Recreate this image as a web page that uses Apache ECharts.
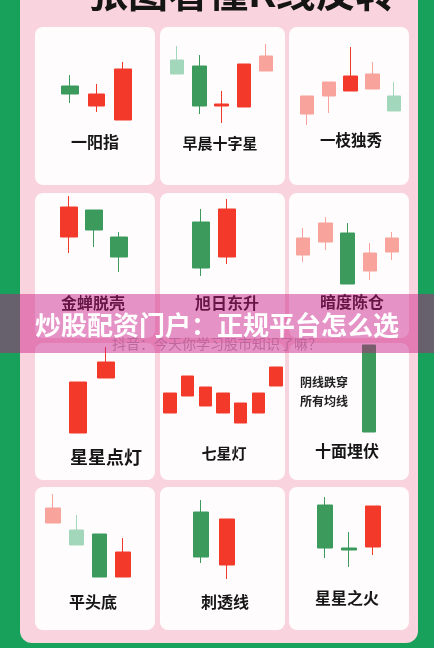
<!DOCTYPE html>
<html><head><meta charset="utf-8">
<script src="https://cdn.jsdelivr.net/npm/echarts@6/dist/echarts.min.js"></script>
<style>html,body{margin:0;padding:0;background:#17a15a;}#c{width:434px;height:648px;}</style>
</head><body><div id="c"></div>
<script>
// ---- data: candles as [open, close, lowest, highest] ----
const titleText = '张图看懂K线反转';
const bannerText = '炒股配资门户：正规平台怎么选';
const footText = '抖音：今天你学习股市知识了嘛？';
const patternNames = ['一阳指','早晨十字星','一枝独秀','金蝉脱壳','旭日东升','暗度陈仓','星星点灯','七星灯','十面埋伏','平头底','刺透线','星星之火'];
const noteLines = ['阴线跌穿','所有均线'];

const yiYangZhi   = [[44,36,27,55],[24,36,18,46],[10,61,10,68]];
const zaoChen     = [[70,56,56,84],[64,24,16,75],[24,26,7,39],[23,66,23,66],[59,74,59,86]];
const yiZhi       = [[16,34,5,34],[34,48,17,48],[39,54,39,83],[41,56,41,68],[34,19,19,48]];
const jinChan     = [[53,83,37,94],[80,60,43,80],[53,33,18,58]];
const xuRi        = [[68,22,14,81],[33,81,26,91]];
const anDu        = [[35,52,28,62],[48,67,40,73],[57,6,6,67],[19,37,10,47],[38,52,30,58]];
const xingDian    = [[37,88,37,88],[92,108,92,123]];
const qiXing      = [[57,77,57,77],[74,94,74,94],[64,83,64,83],[57,77,57,77],[47,67,47,67],[57,77,57,77],[84,103,84,103]];
const shiMian     = [[125,38,38,125]];
const pingTou     = [[77,92,77,106],[70,55,55,85],[66,23,23,66],[23,48,23,62]];
const ciTou       = [[88,43,37,100],[35,81,21,81]];
const xingHuo     = [[95,52,42,103],[52,50,33,68],[53,94,45,94]];

// ---- styles / layout (kept apart from data) ----
const TONE = {u:'#f33a2a', d:'#3b9a5c', U:'#f8a39b', D:'#a3d7bb'};
const cards = [
  {data:yiYangZhi, tones:'duu',    c0:70,  c1:123, bw:17, row:0},
  {data:zaoChen,   tones:'DduuU',  c0:177, c1:266, bw:14, row:0},
  {data:yiZhi,     tones:'UUuUD',  c0:307, c1:394, bw:14, row:0},
  {data:jinChan,   tones:'udd',    c0:69,  c1:119, bw:17, row:1},
  {data:xuRi,      tones:'du',     c0:201, c1:227, bw:17, row:1},
  {data:anDu,      tones:'UUdUU',  c0:303, c1:392, bw:14, row:1},
  {data:xingDian,  tones:'uu',     c0:78,  c1:106, bw:17, row:2},
  {data:qiXing,    tones:'uuuuuuu',c0:170, c1:276, bw:13, row:2},
  {data:shiMian,   tones:'d',      c0:369, c1:369, bw:14, row:2},
  {data:pingTou,   tones:'UDdu',   c0:53,  c1:123, bw:15, row:3},
  {data:ciTou,     tones:'du',     c0:201, c1:227, bw:16, row:3},
  {data:xingHuo,   tones:'ddu',    c0:325, c1:373, bw:15, row:3}
];
const rows = [{top:30,h:100},{top:190,h:100},{top:340,h:130},{top:490,h:110}];
const colX = [35,160,289], colW = [120,125,120];
const rowY = [[27,158],[193,145],[343,137],[487,143]];
const labelPos = [[95,142,16],[220,143,15],[351,140,15.5],[93,303,16],[227,303,16],[352,302,16],[106,457,18],[224,453,15],[347,451,16],[93,602,16],[225,602,16],[347,598,16]];

const grids=[], xAxes=[], yAxes=[], series=[];
cards.forEach((c,i)=>{
  const n=c.data.length, s = n>1 ? (c.c1-c.c0)/(n-1) : 30;
  const r=rows[c.row];
  grids.push({left:c.c0-s/2, width:n*s, top:r.top, height:r.h});
  xAxes.push({type:'category', gridIndex:i, show:false, data:c.data.map((_,k)=>'K'+(k+1))});
  yAxes.push({type:'value', gridIndex:i, show:false, min:0, max:r.h});
  series.push({type:'candlestick', xAxisIndex:i, yAxisIndex:i, barWidth:c.bw, z:5, silent:true,
    data:c.data.map((v,k)=>{const col=TONE[c.tones[k]];return {value:v, itemStyle:{color:col,color0:col,borderColor:col,borderColor0:col,borderWidth:1}};})});
});

const FONT='"Noto Sans CJK SC", sans-serif';
const els=[];
els.push({type:'rect', z:0, shape:{x:20,y:-20,width:398,height:663,r:12}, style:{fill:'#f9d3dd'}});
els.push({type:'text', z:1, style:{text:titleText, x:88, y:12, font:'bold 40px '+FONT, fill:'#151515', textAlign:'left', textVerticalAlign:'bottom', align:'left', verticalAlign:'bottom'}});
for(let r=0;r<4;r++) for(let c=0;c<3;c++)
  els.push({type:'rect', z:0, shape:{x:colX[c], y:rowY[r][0], width:colW[c], height:rowY[r][1], r:8}, style:{fill:'#fefcfd'}});
patternNames.forEach((t,i)=>{
  const p=labelPos[i];
  els.push({type:'text', z:10, style:{text:t, x:p[0], y:p[1], font:'bold '+p[2]+'px '+FONT, fill:'#161616', textAlign:'center', textVerticalAlign:'middle', align:'center', verticalAlign:'middle'}});
});
noteLines.forEach((t,i)=>{
  els.push({type:'text', z:10, style:{text:t, x:300, y:382+i*19, font:'bold 12px '+FONT, fill:'#222', textAlign:'left', textVerticalAlign:'middle', align:'left', verticalAlign:'middle'}});
});
els.push({type:'text', z:10, style:{text:footText, x:217, y:344, font:'14px '+FONT, fill:'#b8aab5', textAlign:'center', textVerticalAlign:'middle', align:'center', verticalAlign:'middle'}});
els.push({type:'rect', z:100, shape:{x:0,y:294,width:434,height:59}, style:{fill:'rgba(200,20,130,0.45)'}});
els.push({type:'text', z:101, style:{text:bannerText, x:217, y:325, font:'bold 26px '+FONT, fill:'#ffffff', textAlign:'center', textVerticalAlign:'middle', align:'center', verticalAlign:'middle'}});

const chart = echarts.init(document.getElementById('c'), null, {renderer:'canvas'});
chart.setOption({
  animation:false,
  backgroundColor:'#17a15a',
  grid:grids, xAxis:xAxes, yAxis:yAxes, series:series,
  graphic:{elements:els}
});
</script></body></html>
